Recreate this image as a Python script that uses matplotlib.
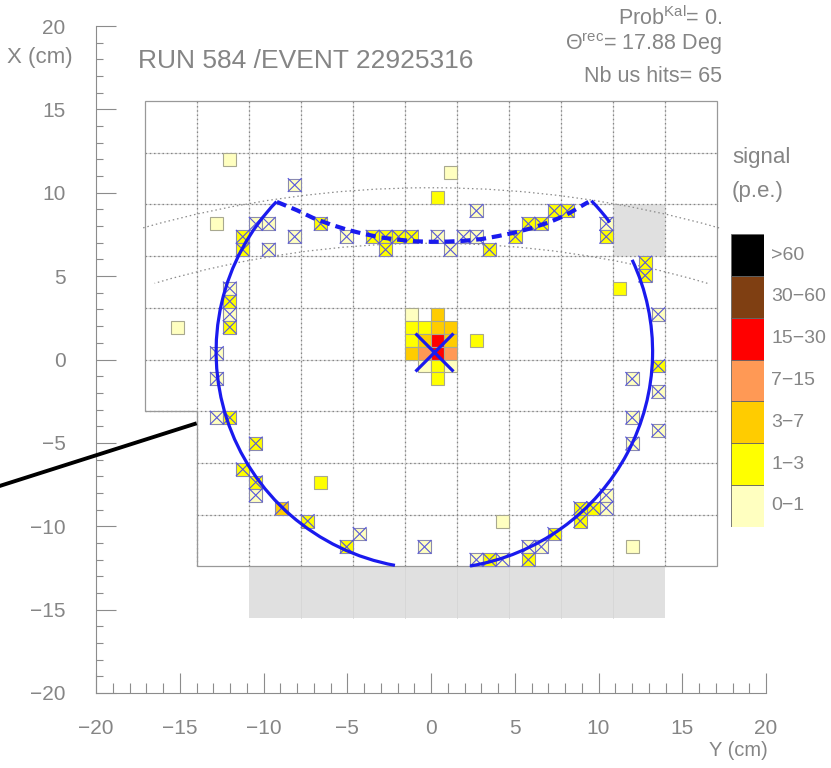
import matplotlib
matplotlib.use('Agg')
import matplotlib.pyplot as plt
from matplotlib.patches import Rectangle, Arc, Polygon
from matplotlib.ticker import MultipleLocator
import numpy as np

# pixel pitch (cm) : one PMT cell = 4x4 pixels
pitch = 0.775
cell = 3.1

# signal bins of the legend
bin_labels = ['0\u22121', '1\u22123', '3\u22127', '7\u221215', '15\u221230', '30\u221260', '>60']
bin_colors = ['#ffffc0', '#ffff00', '#ffcc00', '#ff9955', '#ff0000', '#7f3f12', '#000000']

# hits: pixel index (center = (i+0.5)*pitch), signal bin, used in ring fit
hit_ix = [-17, -16, -14, -13, -15, -15, -13, -11, -11, -9, -7, -5, -4, -3, -2, -4,
          0, 1, 2, 3, 4, 6, 7, 8, 9, 10, 3, 0, 1,
          13, 13, 16, 16, 14, 17, 17, 15, 17, 15, 17, 15,
          13, 13, 12, 11, 11, 9, 8, 7, 7, 3, 4, 5, 5, 15,
          -1, -6, -7, -10, -12, -9, -14, -14, -15, -14, -17, -16, -17, -17,
          -16, -16, -16, -16, -20,
          -2, 0, -2, -1, 0, 1, -2, -1, 0, 1, -2, -1, 0, 1, -1, 0, 1, 0, 3]
hit_iy = [10, 15, 10, 10, 9, 8, 8, 9, 13, 10, 9, 9, 9, 9, 9, 8,
          9, 8, 9, 9, 8, 9, 10, 10, 11, 11, 11, 12, 14,
          10, 9, 7, 6, 5, 3, -1, -2, -3, -5, -6, -7,
          -11, -12, -12, -12, -13, -14, -15, -15, -16, -16, -16, -16, -13, -15,
          -15, -14, -15, -13, -12, -10, -10, -11, -9, -7, -5, -5, -2, 0,
          5, 4, 3, 2, 2,
          3, 3, 2, 2, 2, 2, 1, 1, 1, 1, 0, 0, 0, 0, -1, -1, -1, -2, 1]
hit_bin = [0, 0, 0, 0, 1, 1, 0, 0, 0, 1, 0, 1, 1, 1, 1, 1,
           0, 0, 0, 0, 1, 1, 1, 1, 1, 1, 0, 1, 0,
           0, 1, 1, 1, 1, 0, 1, 0, 0, 0, 0, 0,
           0, 0, 1, 1, 1, 1, 0, 0, 1, 0, 1, 0, 0, 0,
           0, 0, 1, 1, 2, 1, 1, 0, 1, 1, 0, 1, 0, 0,
           0, 1, 0, 1, 0,
           0, 2, 1, 1, 2, 2, 1, 2, 4, 2, 2, 3, 4, 3, 0, 1, 0, 1, 1]
hit_used = [0, 0, 1, 1, 1, 1, 1, 1, 1, 1, 1, 1, 1, 1, 1, 1,
            1, 1, 1, 1, 1, 1, 1, 1, 1, 1, 1, 0, 0,
            1, 1, 1, 1, 0, 1, 1, 1, 1, 1, 1, 1,
            1, 1, 1, 1, 1, 1, 1, 1, 1, 1, 1, 1, 0, 0,
            1, 1, 1, 1, 1, 0, 1, 1, 1, 1, 1, 1, 1, 1,
            1, 1, 1, 1, 0,
            0, 0, 0, 0, 0, 0, 0, 0, 0, 0, 0, 0, 0, 0, 0, 0, 0, 0, 0]

# reconstructed ring (center, radius) and the drawn arcs (degrees)
ring_x, ring_y, ring_r = 0.2, 0.47, 13.03
ring_arcs = [(136.3, 259.6), (-80.6, 25.0), (36.5, 44.0)]
# part of the ring reflected by the mirror edge (dashed)
refl_x = [-9.2, -8.0, -7.0, -6.0, -5.0, -4.0, -3.0, -2.0, -1.0, 0.0, 1.0, 2.0, 3.0, 4.0, 5.0, 6.0, 7.0, 8.0, 9.4]
refl_y = [9.45, 8.95, 8.47, 8.1, 7.78, 7.53, 7.32, 7.19, 7.09, 7.06, 7.07, 7.12, 7.22, 7.4, 7.61, 7.88, 8.21, 8.63, 9.45]

# mirror edges (circles: center y, radius, half opening in x)
mirror_cy = [-52.3, -50.93]
mirror_r = [62.6, 57.9]
mirror_half = [17.2, 16.5]

# track
track_x = [-25.8, -14.1]
track_y = [-7.6, -3.86]

W, H = 831, 768
tc = '#858585'
plt.rcParams['font.family'] = ['Liberation Sans', 'DejaVu Sans']
plt.rcParams['mathtext.fontset'] = 'custom'
plt.rcParams['mathtext.rm'] = 'Liberation Sans'
plt.rcParams['mathtext.it'] = 'Liberation Sans'

fig = plt.figure(figsize=(W / 100, H / 100), dpi=100)
ax = fig.add_axes([96 / W, 1 - 693 / H, 670 / W, 667 / H])
ax.set_xlim(-20, 20)
ax.set_ylim(-20, 20)
for s in ['top', 'right']:
    ax.spines[s].set_visible(False)
for s in ['left', 'bottom']:
    ax.spines[s].set_color('#8c8c8c')
    ax.spines[s].set_linewidth(0.8)
ax.set_xticks(np.arange(-20, 21, 5))
ax.set_yticks(np.arange(-20, 21, 5))
ax.xaxis.set_minor_locator(MultipleLocator(1))
ax.yaxis.set_minor_locator(MultipleLocator(1))
ax.tick_params(which='both', direction='in', color='#8c8c8c', width=0.8,
               labelcolor=tc, labelsize=15)
ax.tick_params(axis='x', which='major', length=14.5, pad=19)
ax.tick_params(axis='x', which='minor', length=7.5)
ax.tick_params(axis='y', which='major', length=14.5, pad=22)
ax.tick_params(axis='y', which='minor', length=5)

# dead zones
ax.add_patch(Rectangle((-10.85, -15.5), 24.8, 3.1, fc='#e0e0e0', ec='none', zorder=1))
ax.add_patch(Rectangle((10.85, 6.2), 3.1, 3.1, fc='#e0e0e0', ec='none', zorder=1))
for xv in [-7.75, -4.65, -1.55, 1.55, 4.65, 7.75, 10.85]:
    ax.plot([xv, xv], [-15.5, -12.4], color='#d6d6d6', lw=0.6, zorder=1)

# PMT grid
col_edges = -17.05 + cell * np.arange(12)
row_edges = -12.4 + cell * np.arange(10)
segs = []
for xv in col_edges[1:-1]:
    segs.append(([xv, xv], [-12.4, 15.5]))
for yv in row_edges[1:-1]:
    x0 = -17.05 if yv >= -3.15 else -13.95
    segs.append(([x0, 17.05], [yv, yv]))
for sx, sy in segs:
    ax.plot(sx, sy, color='#dadada', lw=0.8, zorder=2)
    ax.plot(sx, sy, color='#858585', lw=0.9, dashes=(1.2, 2.2), zorder=2)
outline = [(-17.05, 15.5), (17.05, 15.5), (17.05, -12.4), (-13.95, -12.4),
           (-13.95, -3.1), (-17.05, -3.1)]
ax.add_patch(Polygon(outline, closed=True, fill=False, ec='#999999', lw=0.9, zorder=2))

# mirror edges
for cy, r, hx in zip(mirror_cy, mirror_r, mirror_half):
    a = np.degrees(np.arcsin(hx / r))
    ax.add_patch(Arc((0, cy), 2 * r, 2 * r, theta1=90 - a, theta2=90 + a,
                     color='#8a8a8a', lw=0.9, ls=(0, (1.2, 2.3)), zorder=3))

# hits
for ix, iy, b, u in zip(hit_ix, hit_iy, hit_bin, hit_used):
    x0 = ix * pitch
    y0 = iy * pitch
    ec = '#8a8ab0' if u else '#a8a890'
    ax.add_patch(Rectangle((x0, y0), pitch, pitch, fc=bin_colors[b], ec=ec, lw=0.8, zorder=4))
    if u:
        ax.plot([x0, x0 + pitch], [y0, y0 + pitch], color='#5555dd', lw=0.8, zorder=5)
        ax.plot([x0, x0 + pitch], [y0 + pitch, y0], color='#5555dd', lw=0.8, zorder=5)

# ring
blue = '#1a1aee'
for t1, t2 in ring_arcs:
    ax.add_patch(Arc((ring_x, ring_y), 2 * ring_r, 2 * ring_r, theta1=t1, theta2=t2,
                     color=blue, lw=2.3, zorder=6))
ax.plot(refl_x, refl_y, color=blue, lw=3, dashes=(2.4, 1.4), zorder=6)
ax.plot([ring_x], [ring_y], marker='x', ms=27, mew=2.3, color=blue, zorder=7)

# track
ax.plot(track_x, track_y, color='black', lw=2.8, clip_on=False, zorder=6)

# texts
fig.text(138 / W, 1 - 61 / H, 'RUN 584 /EVENT 22925316', fontsize=19, color=tc, va='center')
fig.text(7 / W, 1 - 58 / H, 'X (cm)', fontsize=16, color=tc, va='center')
fig.text(768 / W, 1 - 750 / H, 'Y (cm)', fontsize=14.5, color=tc, va='center', ha='right')
fig.text(722 / W, 1 - 18 / H, r'Prob$^{\mathrm{Kal}}$= 0.', fontsize=15.5, color=tc, va='center', ha='right')
fig.text(722 / W, 1 - 44 / H, r'$\Theta^{\mathrm{rec}}$= 17.88 Deg', fontsize=15.5, color=tc, va='center', ha='right')
fig.text(722 / W, 1 - 76 / H, 'Nb us hits= 65', fontsize=15.5, color=tc, va='center', ha='right')
fig.text(732 / W, 1 - 158 / H, 'signal', fontsize=16, color=tc, va='center')
fig.text(732 / W, 1 - 191 / H, '(p.e.)', fontsize=16, color=tc, va='center')

# legend
lax = fig.add_axes([730.7 / W, 1 - 526.7 / H, 33.6 / W, 292.4 / H])
lax.set_xlim(0, 1)
lax.set_ylim(0, len(bin_colors))
lax.axis('off')
for i, (c, lab) in enumerate(zip(bin_colors, bin_labels)):
    lax.add_patch(Rectangle((0, i), 1, 1, fc=c, ec='#666666', lw=0.6))
    lax.text(1.2, i + 0.5, lab, fontsize=14, color=tc, va='center', ha='left', clip_on=False)

fig.savefig('out.png', dpi=100)
